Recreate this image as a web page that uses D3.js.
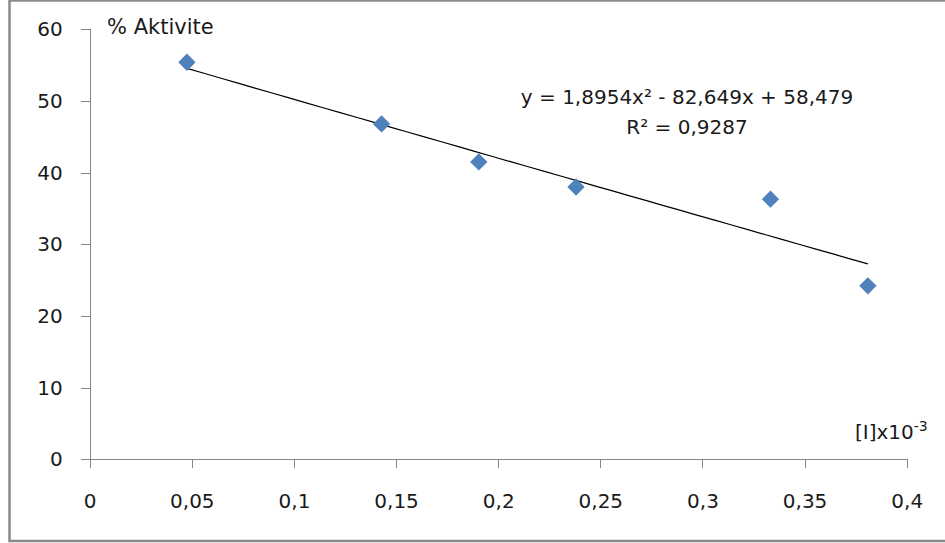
<!DOCTYPE html>
<html>
<head>
<meta charset="utf-8">
<script src="https://d3js.org/d3.v7.min.js"></script>
<style>
  html, body { margin: 0; padding: 0; background: #fff; }
  svg text { font-family: "DejaVu Sans", Verdana, sans-serif; fill: #1a1a1a; }
</style>
</head>
<body>
<div id="chart"></div>
<script>
// Inhibitor concentration vs. % activity
var concentrations = [0.0476, 0.1429, 0.1905, 0.2381, 0.3333, 0.381];
var activity = [55.4, 46.8, 41.5, 38.0, 36.3, 24.2];

var xTicks = [0, 0.05, 0.1, 0.15, 0.2, 0.25, 0.3, 0.35, 0.4];
var yTicks = [0, 10, 20, 30, 40, 50, 60];

// polynomial trendline coefficients (a x^2 + b x + c), as printed on the chart
var trendCoef = [1.8954, -82.649, 58.479];
var trendLabel = 'y = 1,8954x² - 82,649x + 58,479';
var r2Label = 'R² = 0,9287';

var width = 945, height = 543;
var plotLeft = 89.7, plotRight = 906.7, plotTop = 29.3, plotBottom = 459.3;

var svg = d3.select('#chart').append('svg')
  .attr('width', width)
  .attr('height', height);

svg.append('rect')
  .attr('width', width).attr('height', height)
  .attr('fill', '#fff');

// chart frame (right side falls outside the picture)
svg.append('rect')
  .attr('x', 9.5).attr('y', 0.5)
  .attr('width', 1000).attr('height', 540.5)
  .attr('fill', 'none')
  .attr('stroke', '#8a8a8a')
  .attr('stroke-width', 2.5);

var x = d3.scaleLinear().domain([0, 0.4]).range([plotLeft, plotRight]);
var y = d3.scaleLinear().domain([0, 60]).range([plotBottom, plotTop]);

var comma = function(d) { return String(d).replace('.', ','); };

var yAxis = svg.append('g')
  .attr('transform', 'translate(' + plotLeft + ',0)')
  .call(d3.axisLeft(y).tickValues(yTicks).tickSize(9).tickSizeOuter(9).tickPadding(18).tickFormat(comma));

var xAxis = svg.append('g')
  .attr('transform', 'translate(0,' + plotBottom + ')')
  .call(d3.axisBottom(x).tickValues(xTicks).tickSize(9).tickSizeOuter(9).tickPadding(26).tickFormat(comma));

[yAxis, xAxis].forEach(function(a) {
  a.selectAll('path, line').attr('stroke', '#868686').attr('shape-rendering', 'crispEdges');
  a.selectAll('text').style('font-size', '20px').attr('fill', '#1a1a1a');
});

// trendline over the data range
var xs = d3.range(0, 41).map(function(i) {
  return concentrations[0] + (concentrations[concentrations.length - 1] - concentrations[0]) * i / 40;
});
var trend = xs.map(function(v) {
  return [v, trendCoef[0] * v * v + trendCoef[1] * v + trendCoef[2]];
});

svg.append('path')
  .datum(trend)
  .attr('fill', 'none')
  .attr('stroke', '#000')
  .attr('stroke-width', 1.2)
  .attr('d', d3.line().x(function(d) { return x(d[0]); }).y(function(d) { return y(d[1]); }));

// markers
svg.append('g').selectAll('path')
  .data(concentrations)
  .join('path')
  .attr('d', d3.symbol().type(d3.symbolSquare).size(150))
  .attr('fill', '#4f81bd')
  .attr('transform', function(d, i) {
    return 'translate(' + x(d) + ',' + y(activity[i]) + ') rotate(45)';
  });

// labels
svg.append('text')
  .attr('x', 107).attr('y', 34)
  .style('font-size', '21px')
  .text('% Aktivite');

svg.append('text')
  .attr('x', 687).attr('y', 104)
  .attr('text-anchor', 'middle')
  .style('font-size', '20px')
  .text(trendLabel);

svg.append('text')
  .attr('x', 687).attr('y', 134)
  .attr('text-anchor', 'middle')
  .style('font-size', '20px')
  .text(r2Label);

var xl = svg.append('text')
  .attr('x', 855).attr('y', 439)
  .style('font-size', '20px');
xl.append('tspan').text('[I]x10');
xl.append('tspan').attr('dy', -8).style('font-size', '14px').text('-3');
</script>
</body>
</html>
